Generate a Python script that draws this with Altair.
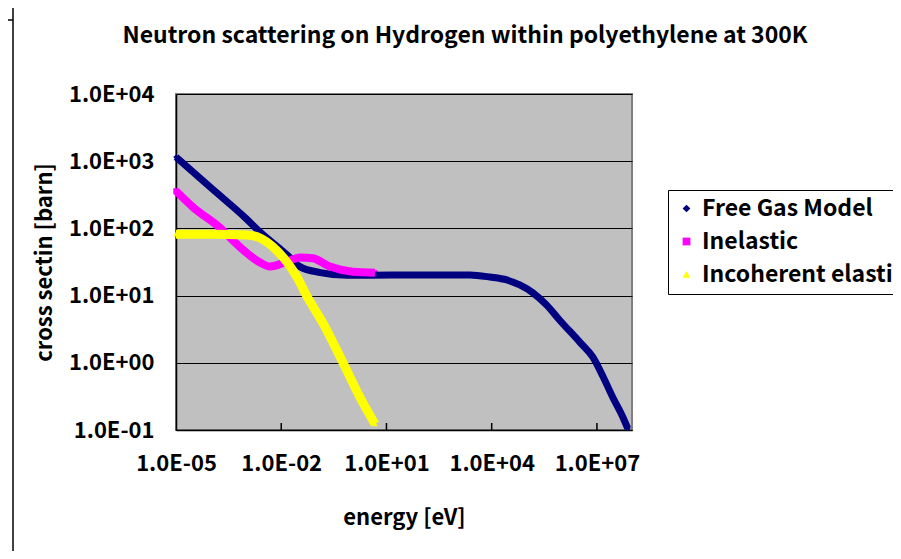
import altair as alt
import pandas as pd

# ---------------- data ----------------
free_gas_energy = [1e-5, 1e-4, 1e-3, 2.5e-3, 1e-2, 1.5e-2, 3.4e-2, 0.13, 0.75, 15, 2.4e3,
                   8.9e3, 2.7e4, 6.3e4, 1.5e5, 3.7e5, 8.7e5, 3.2e6, 7.6e6, 1.5e7, 2.8e7, 5.5e7, 7.6e7]
free_gas_xs = [1150, 400, 140, 88, 48, 40, 27, 22, 20, 20.3, 20.3,
               18.9, 17.1, 14.4, 11, 7.2, 4.3, 2.05, 1.22, 0.62, 0.31, 0.155, 0.105]

inelastic_energy = [1e-5, 3e-5, 1.8e-4, 6.6e-4, 2.5e-3, 4.8e-3, 1.45e-2, 3.4e-2, 7.9e-2, 0.245, 1.1, 4.7]
inelastic_xs = [360, 209, 102, 53, 31, 27, 32, 37, 36, 27, 22.6, 21.8]

incoh_energy = [1e-5, 1e-4, 1.05e-3, 2.5e-3, 5.8e-3, 1.45e-2, 2.8e-2, 5.4e-2, 0.155, 0.58, 1.74, 4.7]
incoh_xs = [82, 82, 80, 72, 53, 31.6, 19, 9.8, 3.9, 1.0, 0.31, 0.123]

series_names = ["Free Gas Model", "Inelastic", "Incoherent elastic"]
series_colors = ["#000080", "#FF00FF", "#FFFF00"]
series_shapes = ["diamond", "square", "triangle-up"]

title_text = "Neutron scattering on Hydrogen within polyethylene at 300K"
x_title = "energy [eV]"
y_title = "cross sectin [barn]"

x_tick_values = [1e-5, 1e-2, 1e1, 1e4, 1e7]
x_inner_ticks = [1e-2, 1e1, 1e4, 1e7]
y_tick_values = [0.1, 1, 10, 100, 1000, 10000]

# ---------------- build table ----------------
frames = []
for name, e, s in [(series_names[0], free_gas_energy, free_gas_xs),
                   (series_names[1], inelastic_energy, inelastic_xs),
                   (series_names[2], incoh_energy, incoh_xs)]:
    frames.append(pd.DataFrame({"energy": e, "xs": s, "series": name}))
df = pd.concat(frames, ignore_index=True)
ticks_df = pd.DataFrame({"energy": x_inner_ticks})

FONT = "Noto Sans CJK JP"
FS = 22
W, H = 456, 336

label_expr = ("'1.0E' + (datum.value >= 1 ? '+' : '-') + "
              "(abs(round(log(datum.value)/LN10)) < 10 ? '0' : '') + "
              "abs(round(log(datum.value)/LN10))")

xscale = alt.Scale(type="log", domain=[1e-5, 1e8], nice=False)
yscale = alt.Scale(type="log", domain=[0.1, 1e4], nice=False)

x_enc = alt.X("energy:Q", scale=xscale,
              axis=alt.Axis(values=x_tick_values, labelExpr=label_expr, title=x_title,
                            grid=False, ticks=False, domainColor="black", domainWidth=1.5,
                            labelFlush=False, labelOverlap=False, labelBound=False,
                            labelFont=FONT, labelFontSize=FS, labelFontWeight="bold",
                            labelColor="black", labelPadding=23, titleFont=FONT,
                            titleFontSize=FS, titleFontWeight="bold", titleColor="black",
                            titlePadding=33))
y_enc = alt.Y("xs:Q", scale=yscale,
              axis=alt.Axis(values=y_tick_values, labelExpr=label_expr, title=y_title,
                            grid=True, gridColor="black", gridOpacity=1, gridWidth=1,
                            ticks=False, domainColor="black", domainWidth=1.5,
                            labelFlush=False, labelOverlap=False, labelBound=False,
                            labelFont=FONT, labelFontSize=FS, labelFontWeight="bold",
                            labelColor="black", labelPadding=22, titleFont=FONT,
                            titleFontSize=FS, titleFontWeight="bold", titleColor="black",
                            titlePadding=12))

points = alt.Chart(df).mark_point(filled=True, opacity=1, size=30).encode(
    x=x_enc,
    y=y_enc,
    color=alt.Color("series:N", scale=alt.Scale(domain=series_names, range=series_colors),
                    legend=alt.Legend(title=None, orient="none", legendX=492, legendY=96,
                                      strokeColor="black", fillColor="white", padding=7,
                                      labelFont=FONT, labelFontSize=23, labelFontWeight="bold",
                                      labelColor="black", labelLimit=500, rowPadding=9,
                                      symbolSize=60, symbolOffset=0, labelOffset=4)),
    shape=alt.Shape("series:N", scale=alt.Scale(domain=series_names, range=series_shapes)),
)

line_layers = []
for name, col, sw in zip(series_names, series_colors, [7, 8, 9]):
    line_layers.append(
        alt.Chart(df).transform_filter(alt.datum.series == name)
        .mark_line(color=col, strokeWidth=sw, strokeJoin="round", interpolate="monotone")
        .encode(x=alt.X("energy:Q", scale=xscale), y=alt.Y("xs:Q", scale=yscale))
    )

inner_ticks = alt.Chart(ticks_df).mark_rule(color="black", strokeWidth=1.5).encode(
    x=alt.X("energy:Q", scale=xscale), y=alt.value(H - 7), y2=alt.value(H)
)

title_mark = alt.Chart(alt.Data(values=[{}])).mark_text(
    text=title_text, font=FONT, fontSize=23, fontWeight="bold", color="black",
    align="center", baseline="middle"
).encode(x=alt.value(289), y=alt.value(-58))

frame_left = alt.Chart(alt.Data(values=[{}])).mark_rule(color="black", strokeWidth=1.5).encode(
    x=alt.value(-163), y=alt.value(-86), y2=alt.value(460)
)
frame_stub = alt.Chart(alt.Data(values=[{}])).mark_rule(color="black", strokeWidth=1.5).encode(
    x=alt.value(-170), x2=alt.value(-163), y=alt.value(-74)
)

chart = alt.layer(points, *line_layers, inner_ticks, title_mark, frame_left, frame_stub).properties(
    width=W, height=H,
    autosize=alt.AutoSizeParams(type="none"),
    padding={"left": 168, "top": 86, "right": 261, "bottom": 121},
).configure(background="white").configure_view(fill="#C0C0C0", stroke="#808080", strokeWidth=2)

chart.save("out.html", embed_options={"renderer": "svg", "actions": False})
